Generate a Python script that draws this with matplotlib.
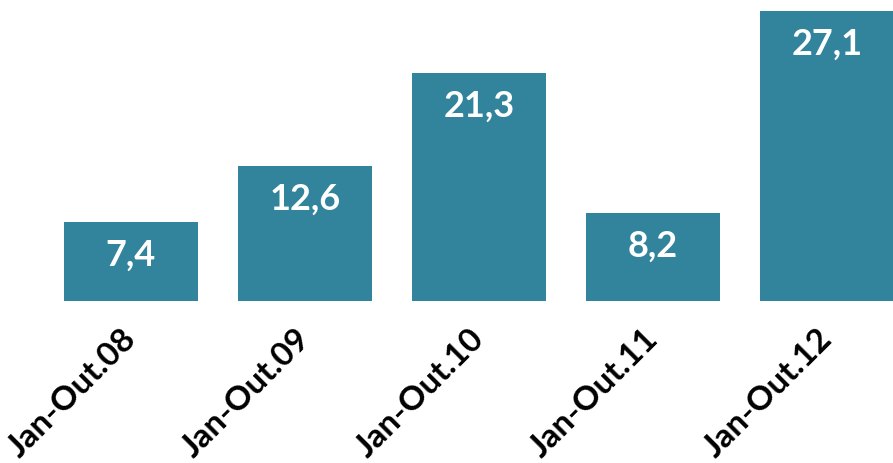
import matplotlib
matplotlib.use("Agg")
import matplotlib.pyplot as plt

categories = ["Jan-Out.08", "Jan-Out.09", "Jan-Out.10", "Jan-Out.11", "Jan-Out.12"]
values = [7.4, 12.6, 21.3, 8.2, 27.1]
value_labels = ["7,4", "12,6", "21,3", "8,2", "27,1"]

W, H = 893, 463
fig = plt.figure(figsize=(W / 100, H / 100), dpi=100)
# axes: from y pixel 0 (top) to 301 (baseline)
ax = fig.add_axes([0, 1 - 301 / H, 1, 301 / H])
ax.set_facecolor("white")
color = "#31849B"
x = list(range(len(values)))
ax.bar(x, values, width=0.77, color=color)
ax.set_xlim(-131 / 174.0, (W - 131) / 174.0)
ax.set_ylim(0, 301 / 10.7)
for s in ax.spines.values():
    s.set_visible(False)
ax.set_yticks([])
ax.set_xticks(x)
ax.set_xticklabels(categories, rotation=45, ha="right", va="center",
                   rotation_mode="anchor", fontsize=24, fontweight="bold",
                   family="Lato")
ax.tick_params(axis="x", length=0, pad=24)
for xi, v, lab in zip(x, values, value_labels):
    ax.annotate(lab, (xi, v), xytext=(0, -24), textcoords="offset points",
                ha="center", va="center", color="white", fontsize=26,
                fontweight="bold", family="Lato")
fig.savefig("out.png", dpi=100)
